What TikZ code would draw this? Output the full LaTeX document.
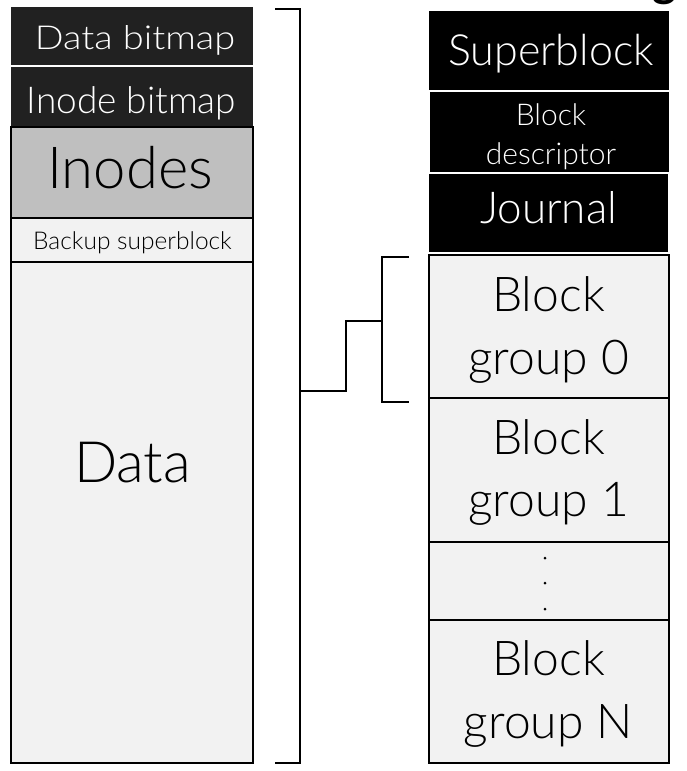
\documentclass[tikz,border=0pt]{standalone}
\usepackage{fontspec}
\setmainfont{Lato}[UprightFont=* Light, BoldFont=* Bold]
\begin{document}
\begin{tikzpicture}[x=1pt,y=-1pt,
  dk/.style={fill=black!87,draw=none},
  bk/.style={fill=black,draw=none},
  lt/.style={fill=black!5,draw=black,line width=1.3pt},
  gr/.style={fill=black!25,draw=black,line width=1.3pt},
  lbl/.style={anchor=base,inner sep=0pt},
  wlbl/.style={lbl,text=white},
  brk/.style={draw=black,line width=1.4pt},
  dot/.style={circle,fill=black,inner sep=0pt,minimum size=3pt}]
\useasboundingbox (0,0) rectangle (687,771);
% left column
\path[dk] (11,7) rectangle (253,65);
\node[wlbl,xscale=1.15,font=\fontsize{33}{36}\selectfont] (db) at (135,49) {Data bitmap};
\path[dk] (11,67) rectangle (253,126);
\node[wlbl,font=\fontsize{37}{40}\selectfont] (ib) at (131.5,113) {Inode bitmap};
\path[gr] (11,127) rectangle (253,218);
\node[lbl,font=\fontsize{58}{60}\selectfont] (ino) at (130,188) {Inodes};
\path[lt] (11,218) rectangle (253,262);
\node[lbl,font=\fontsize{24.5}{26}\selectfont] (bsb) at (132.5,249) {Backup superblock};
\path[lt] (11,262) rectangle (253,763);
\node[lbl,font=\fontsize{57}{60}\selectfont] (data) at (132.5,482) {Data};
% right column
\path[bk] (429,11) rectangle (669,90);
\node[wlbl,font=\fontsize{43}{46}\selectfont] (sb) at (551,65) {Superblock};
\path[bk] (430,92) rectangle (669,172);
\node[wlbl,font=\fontsize{30}{32}\selectfont] (bd) at (551,125) {Block};
\node[wlbl,font=\fontsize{30}{32}\selectfont] (bd2) at (551,164) {descriptor};
\path[bk] (429,174) rectangle (668,252);
\node[wlbl,font=\fontsize{44}{46}\selectfont] (jn) at (548.5,223) {Journal};
\path[lt] (429,255) rectangle (669,398);
\node[lbl,font=\fontsize{48}{50}\selectfont] (bg0) at (548.5,311) {Block};
\node[lbl,font=\fontsize{48}{50}\selectfont] (bg0b) at (548.5,374) {group 0};
\path[lt] (429,398) rectangle (669,542);
\node[lbl,font=\fontsize{48}{50}\selectfont] (bg1) at (548.5,454) {Block};
\node[lbl,font=\fontsize{48}{50}\selectfont] (bg1b) at (548.5,516) {group 1};
\path[lt] (429,542) rectangle (669,620);
\node[dot] (d1) at (545,558) {};
\node[dot] (d2) at (545,583) {};
\node[dot] (d3) at (545,609) {};
\path[lt] (429,620) rectangle (669,763);
\node[lbl,font=\fontsize{48}{50}\selectfont] (bgn) at (548.5,675) {Block};
\node[lbl,font=\fontsize{48}{50}\selectfont] (bgnb) at (548.5,738) {group N};
% clipped title fragment
\node[anchor=south,inner sep=0pt,font=\bfseries\fontsize{46}{50}\selectfont] (ttl) at (665,5) {g};
% brackets
\coordinate (bt) at (275,9);
\coordinate (bb) at (275,763);
\coordinate (bm) at (300,391);
\coordinate (st) at (409,257);
\coordinate (sb2) at (409,402);
\coordinate (sm) at (382,321);
\draw[brk] (bt) -- (300,9) -- (300,763) -- (bb);
\draw[brk] (bm) -- (346,391) -- (346,321) -- (sm);
\draw[brk] (st) -- (382,257) -- (382,402) -- (sb2);
\end{tikzpicture}
\end{document}
